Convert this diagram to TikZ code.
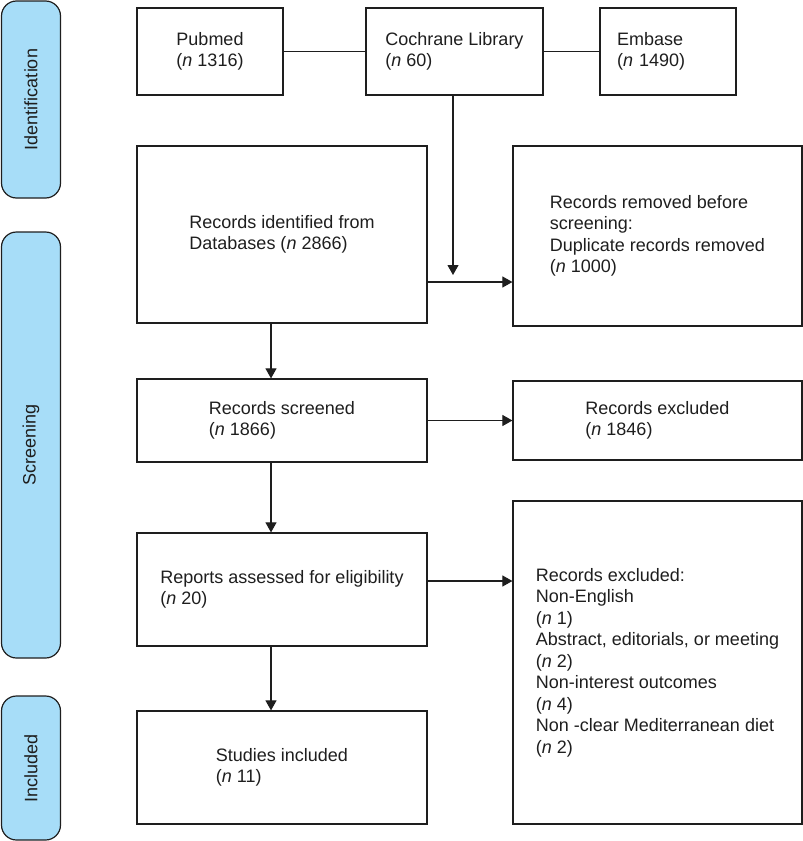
\documentclass[tikz,border=0pt]{standalone}
\usepackage{fontspec}
\setmainfont{Liberation Sans}
\usetikzlibrary{arrows.meta}
\definecolor{barblue}{RGB}{167,221,248}
\definecolor{ink}{RGB}{30,30,30}
\begin{document}
\begin{tikzpicture}[x=1pt,y=-1pt,
  every node/.style={font=\fontsize{18}{21.5}\selectfont, text=ink},
  box/.style={draw=ink, line width=1.2pt, inner sep=0pt, align=left},
  bar/.style={draw=ink, line width=1.2pt, fill=barblue, rounded corners=15pt, minimum width=59pt, inner sep=0pt},
  link/.style={draw=ink, line width=1.1pt},
  arr/.style={link, -{Triangle[length=10pt,width=11pt]}}]
\useasboundingbox (0,0) rectangle (803,841);
% phase bars
\node[bar, minimum height=197pt] (bid) at (31,99.5) {};
\node[rotate=90] (tid) at (bid.center) {Identification};
\node[bar, minimum height=426pt] (bsc) at (31,445) {};
\node[rotate=90] (tsc) at (bsc.center) {Screening};
\node[bar, minimum height=144pt] (bin) at (31,768) {};
\node[rotate=90] (tin) at (bin.center) {Included};
% databases
\node[box, minimum width=146pt, minimum height=87pt] (pub) at (210,51.5) {Pubmed\\(\textit{n} 1316)};
\node[box, minimum width=177pt, minimum height=87pt] (coch) at (454.5,51.5) {Cochrane Library\\(\textit{n} 60)};
\node[box, text width=102pt, inner xsep=17pt, minimum height=87pt] (emb) at (668,51.5) {Embase\\(\textit{n} 1490)};
% main flow
\node[box, minimum width=290pt, minimum height=177pt] (ident) at (282,234.5) {Records identified from\\Databases (\textit{n} 2866)};
\node[box, minimum width=289pt, minimum height=180pt] (remv) at (657.5,236) {Records removed before\\screening:\\Duplicate records removed\\(\textit{n} 1000)};
\node[box, minimum width=290pt, minimum height=83pt] (scr) at (282,420.5) {Records screened\\(\textit{n} 1866)};
\node[box, minimum width=289pt, minimum height=79pt] (exc1) at (657.5,420.5) {Records excluded\\(\textit{n} 1846)};
\node[box, minimum width=290pt, minimum height=113pt] (rep) at (282,589.5) {Reports assessed for eligibility\\(\textit{n} 20)};
\node[box, minimum width=289pt, minimum height=323pt] (exc2) at (657.5,662.5) {Records excluded:\\Non-English\\(\textit{n} 1)\\Abstract, editorials, or meeting\\(\textit{n} 2)\\Non-interest outcomes\\(\textit{n} 4)\\Non -clear Mediterranean diet\\(\textit{n} 2)};
\node[box, minimum width=290pt, minimum height=113pt] (stu) at (282,767.5) {Studies included\\(\textit{n} 11)};
% connectors
\draw[link] (pub.east) -- (coch.west);
\draw[link] (coch.east) -- (emb.west);
\coordinate (dup) at (453,275);
\draw[arr] (coch.south -| dup) -- (dup);
\draw[arr] ([yshift=-47.5pt]ident.east) -- ([yshift=-47.5pt]ident.east -| remv.west);
\draw[arr] ([xshift=-11pt]ident.south) -- ([xshift=-11pt]scr.north);
\draw[arr] (scr.east) -- (exc1.west);
\draw[arr] ([xshift=-11pt]scr.south) -- ([xshift=-11pt]rep.north);
\draw[arr] ([yshift=8.5pt]rep.east) -- ([yshift=8.5pt]rep.east -| exc2.west);
\draw[arr] ([xshift=-11pt]rep.south) -- ([xshift=-11pt]stu.north);
\end{tikzpicture}
\end{document}
